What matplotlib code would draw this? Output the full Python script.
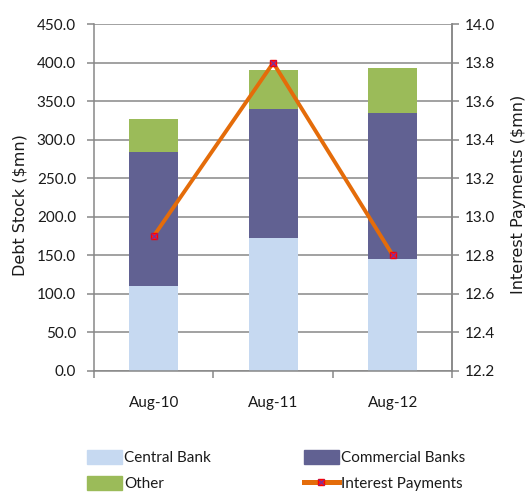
import matplotlib
matplotlib.use("Agg")
import matplotlib.pyplot as plt
from matplotlib.patches import Patch
from matplotlib.lines import Line2D

categories = ["Aug-10", "Aug-11", "Aug-12"]
central_bank = [110, 173, 145]
commercial_banks = [174, 167, 190]
other = [43, 51, 58]
interest_payments = [12.9, 13.8, 12.8]

left_ticks = [0, 50, 100, 150, 200, 250, 300, 350, 400, 450]
right_ticks = [12.2, 12.4, 12.6, 12.8, 13.0, 13.2, 13.4, 13.6, 13.8, 14.0]

c_cb = "#C6D9F1"
c_com = "#616192"
c_oth = "#9BBB59"
c_int = "#E46C0A"
grid_c = "#878787"
txt_c = "#1a1a1a"
narrow = ["Lato", "DejaVu Sans"]
fs = 11

fig = plt.figure(figsize=(5.28, 4.94), dpi=100)
ax = fig.add_axes([0.178, 0.2496, 0.679, 0.7012])

x = list(range(len(categories)))
bw = 0.41
ax.bar(x, central_bank, bw, color=c_cb, zorder=2)
ax.bar(x, commercial_banks, bw, bottom=central_bank, color=c_com, zorder=2)
b3 = [a + b for a, b in zip(central_bank, commercial_banks)]
ax.bar(x, other, bw, bottom=b3, color=c_oth, zorder=2)

ax.set_ylim(0, 450)
ax.set_xlim(-0.5, 2.5)
ax.set_yticks(left_ticks)
ax.set_yticklabels([f"{v:.1f}" for v in left_ticks], fontfamily=narrow, fontsize=fs, color=txt_c)
ax.yaxis.grid(True, color=grid_c, linewidth=1.1, zorder=0)
ax.set_axisbelow(True)

ax.set_xticks([-0.5, 0.5, 1.5, 2.5])
ax.set_xticklabels([])
ax.set_xticks(x, minor=True)
ax.set_xticklabels(categories, minor=True, fontfamily=narrow, fontsize=fs, color=txt_c)
ax.tick_params(axis="x", which="minor", length=0, pad=18)
ax.tick_params(axis="x", which="major", length=5, color=grid_c, width=1.1)
ax.tick_params(axis="y", length=5, color=grid_c, width=1.1, pad=8)

ax.spines["top"].set_visible(False)
for s in ["left", "bottom", "right"]:
    ax.spines[s].set_color(grid_c)
    ax.spines[s].set_linewidth(1.1)

ax2 = ax.twinx()
ax2.set_ylim(12.2, 14.0)
ax2.set_yticks(right_ticks)
ax2.set_yticklabels([f"{v:.1f}" for v in right_ticks], fontfamily=narrow, fontsize=fs, color=txt_c)
ax2.tick_params(axis="y", length=5, color=grid_c, width=1.1, pad=3.5)
for s in ["top", "left", "bottom"]:
    ax2.spines[s].set_visible(False)
ax2.spines["right"].set_color(grid_c)
ax2.spines["right"].set_linewidth(1.1)
ax2.plot(x, interest_payments, color=c_int, linewidth=2.8, zorder=3)
ax2.plot(x, interest_payments, linestyle="none", marker="s", markersize=5,
         mfc="#FF2020", mec="#FF0000", zorder=4)
ax2.plot(x, interest_payments, linestyle="none", marker="x", markersize=4,
         mec="#7030A0", mew=0.8, zorder=5)

fig.text(20 / 528, 1 - 205 / 494, "Debt Stock ($mn)", rotation=90, ha="center", va="center",
         fontfamily="DejaVu Sans", fontsize=11.5, color=txt_c)
fig.text(519 / 528, 1 - 194 / 494, "Interest Payments ($mn)", rotation=90, ha="center",
         va="center", fontfamily="DejaVu Sans", fontsize=11.5, color=txt_c)

h_cb = Patch(color=c_cb)
h_oth = Patch(color=c_oth)
h_com = Patch(color=c_com)
h_int = (Line2D([], [], color=c_int, linewidth=3.6),
         Line2D([], [], linestyle="none", marker="s", markersize=5, mfc="#FF2020", mec="#FF0000"),
         Line2D([], [], linestyle="none", marker="x", markersize=4, mec="#7030A0", mew=0.8))

common = dict(loc="upper left", frameon=False, prop={"family": narrow, "size": fs},
              handlelength=2.29, handleheight=1.05, handletextpad=0.15,
              labelspacing=0.7, borderpad=0, borderaxespad=0, labelcolor=txt_c)
leg1 = fig.legend([h_cb, h_oth], ["Central Bank", "Other"],
                  bbox_to_anchor=(87 / 528, 1 - 450 / 494), **common)
leg2 = fig.legend([h_com, h_int], ["Commercial Banks", "Interest Payments"],
                  bbox_to_anchor=(304 / 528, 1 - 450 / 494), **common)

fig.savefig("out.png", dpi=100)
